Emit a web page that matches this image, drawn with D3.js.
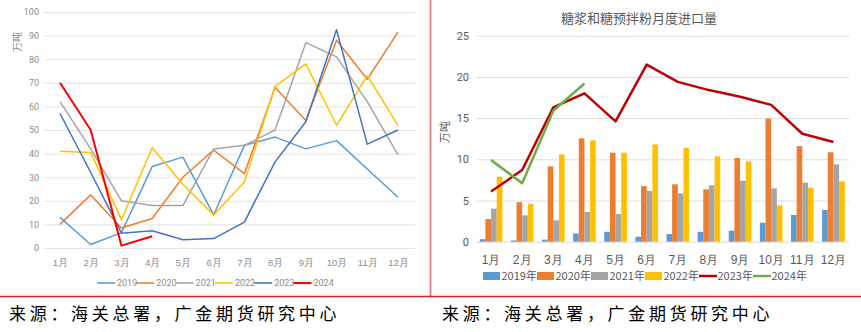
<!DOCTYPE html>
<html><head><meta charset="utf-8">
<script src="https://cdn.jsdelivr.net/npm/d3@7"></script>
<style>
html,body{margin:0;padding:0;background:#fff;}
svg{display:block;font-family:"Noto Sans CJK SC","Noto Sans",sans-serif;}
</style></head>
<body>
<svg id="c" width="861" height="332"></svg>
<script>
// ---------- DATA ----------
const months = ["1月","2月","3月","4月","5月","6月","7月","8月","9月","10月","11月","12月"];

// Left chart (万吨)
const leftYears = ["2019","2020","2021","2022","2023","2024"];
const left2019 = [13, 1.5, 6.5, 34.5, 38.5, 14, 43.5, 47, 42, 45.5, 33.5, 21.5];
const left2020 = [10, 22.5, 8.5, 12.5, 30, 41.5, 31.5, 68, 54, 88, 71.5, 91.5];
const left2021 = [62, 42, 20, 18, 18, 42, 43.5, 50, 87, 81, 62, 39.5];
const left2022 = [41, 40.5, 12, 42.5, 27, 14, 28, 68.5, 78, 52, 73, 52];
const left2023 = [57, 32, 6.3, 7.3, 3.5, 4, 11, 36.5, 53.5, 92.5, 44, 50];
const left2024 = [70, 50, 1, 5];
const leftYTicks = [0,10,20,30,40,50,60,70,80,90,100];

// Right chart (万吨)
const barYears = ["2019年","2020年","2021年","2022年"];
const bar2019 = [0.3, 0.15, 0.25, 1.0, 1.2, 0.6, 0.93, 1.2, 1.34, 2.3, 3.24, 3.85];
const bar2020 = [2.75, 4.8, 9.15, 12.55, 10.8, 6.75, 6.96, 6.35, 10.16, 14.93, 11.6, 10.85];
const bar2021 = [4.0, 3.2, 2.6, 3.6, 3.35, 6.15, 5.87, 6.84, 7.4, 6.48, 7.16, 9.39];
const bar2022 = [7.9, 4.6, 10.6, 12.3, 10.8, 11.8, 11.4, 10.36, 9.75, 4.41, 6.56, 7.33];
const line2023 = [6.1, 8.7, 16.3, 18.0, 14.6, 21.5, 19.4, 18.4, 17.6, 16.6, 13.1, 12.1];
const line2024 = [9.9, 7.1, 15.9, 19.2];
const rightYTicks = [0,5,10,15,20,25];

const rightTitle = "糖浆和糖预拌粉月度进口量";
const unitLabel = "万吨";
const sourceText = "来源：海关总署，广金期货研究中心";

// ---------- STYLE ----------
const leftColors = ["#5B9BD5","#ED7D31","#A5A5A5","#FFC000","#4472C4","#FF0000"];
const barColors = ["#5B9BD5","#ED7D31","#A5A5A5","#FFC000"];
const lineColors = ["#C00000","#70AD47"];

const svg = d3.select("#c");

// ---------- LEFT CHART ----------
{
  const g = svg.append("g");
  const y = d3.scaleLinear().domain([0,100]).range([248,12]);
  const x = d3.scalePoint().domain(months).range([60,398]);
  const yAxis = d3.axisLeft(y).tickValues(leftYTicks).tickSize(-(415-44)).tickPadding(5);
  const ga = g.append("g").attr("transform","translate(44,0)").call(yAxis);
  ga.select(".domain").remove();
  ga.selectAll(".tick line").attr("stroke","#e3e3e3").attr("stroke-width",1);
  ga.selectAll(".tick text").attr("fill","#8c8c8c").attr("font-size",9).attr("font-family","Roboto, 'Noto Sans', sans-serif");
  const xAxis = d3.axisBottom(x).tickSize(0).tickPadding(8);
  const gx = g.append("g").attr("transform","translate(0,251)").call(xAxis);
  gx.select(".domain").remove();
  gx.selectAll(".tick text").attr("fill","#8c8c8c").attr("font-size",9.5);

  g.append("text").attr("transform","translate(21,42) rotate(-90)")
    .attr("text-anchor","middle").attr("font-size",10).attr("fill","#8c8c8c").text(unitLabel);

  const series = [left2019,left2020,left2021,left2022,left2023,left2024];
  const line = d3.line().x((d,i)=>x(months[i])).y(d=>y(d));
  series.forEach((s,k)=>{
    g.append("path").datum(s).attr("d",line).attr("fill","none")
      .attr("stroke",leftColors[k]).attr("stroke-width",k===5?2:1.5)
      .attr("stroke-linejoin","round");
  });

  // legend
  const lg = g.append("g").attr("transform","translate(97,283)");
  leftYears.forEach((yr,k)=>{
    const it = lg.append("g").attr("transform",`translate(${k*39.3},0)`);
    it.append("line").attr("x1",0).attr("x2",18).attr("y1",0).attr("y2",0)
      .attr("stroke",leftColors[k]).attr("stroke-width",k===5?2.2:1.6);
    it.append("text").attr("x",20).attr("y",3.3).attr("font-size",9)
      .attr("fill","#8c8c8c").attr("font-family","Roboto, 'Noto Sans', sans-serif").text(yr);
  });
}

// ---------- RIGHT CHART ----------
{
  const g = svg.append("g");
  const y = d3.scaleLinear().domain([0,25]).range([241.7,35.7]);
  const x = d3.scaleBand().domain(months).range([475.5,849]).padding(0);
  const xs = d3.scaleBand().domain(barYears).range([0,x.bandwidth()]).paddingInner(0).paddingOuter(0.75);

  const yAxis = d3.axisLeft(y).tickValues(rightYTicks).tickSize(-(849-476)).tickPadding(7);
  const ga = g.append("g").attr("transform","translate(476,0)").call(yAxis);
  ga.select(".domain").remove();
  ga.selectAll(".tick line").attr("stroke","#dcdcdc").attr("stroke-width",1);
  ga.selectAll(".tick text").attr("fill","#595959").attr("font-size",11).attr("font-family","Roboto, 'Noto Sans', sans-serif");

  const barSeries = [bar2019,bar2020,bar2021,bar2022];
  barSeries.forEach((s,k)=>{
    g.append("g").selectAll("rect").data(s).join("rect")
      .attr("x",(d,i)=>x(months[i])+xs(barYears[k]))
      .attr("width",xs.bandwidth())
      .attr("y",d=>y(d))
      .attr("height",d=>y(0)-y(d))
      .attr("fill",barColors[k]);
  });

  const xAxis = d3.axisBottom(x).tickSize(0).tickPadding(10);
  const gx = g.append("g").attr("transform","translate(0,245)").call(xAxis);
  gx.select(".domain").remove();
  gx.selectAll(".tick text").attr("fill","#595959").attr("font-size",12);

  const line = d3.line().x((d,i)=>x(months[i])+x.bandwidth()/2).y(d=>y(d));
  [line2023,line2024].forEach((s,k)=>{
    g.append("path").datum(s).attr("d",line).attr("fill","none")
      .attr("stroke",lineColors[k]).attr("stroke-width",2.5).attr("stroke-linejoin","round");
  });

  g.append("text").attr("x",639).attr("y",23).attr("text-anchor","middle")
    .attr("font-size",13).attr("fill","#595959").text(rightTitle);

  g.append("text").attr("transform","translate(449,132) rotate(-90)")
    .attr("text-anchor","middle").attr("font-size",11).attr("fill","#595959").text(unitLabel);

  // legend
  const allLegend = barYears.concat(["2023年","2024年"]);
  const lx = [483,537,591,645,699,753];
  allLegend.forEach((yr,k)=>{
    const it = g.append("g").attr("transform",`translate(${lx[k]},276)`);
    if(k<4){
      it.append("rect").attr("x",0).attr("y",-4).attr("width",17).attr("height",8).attr("fill",barColors[k]);
    } else {
      it.append("line").attr("x1",0).attr("x2",18).attr("y1",0).attr("y2",0)
        .attr("stroke",lineColors[k-4]).attr("stroke-width",2.5);
    }
    it.append("text").attr("x",18.5).attr("y",4).attr("font-size",11).attr("fill","#595959").text(yr);
  });
}

// ---------- FRAME & SOURCES ----------
svg.append("line").attr("x1",430.5).attr("x2",430.5).attr("y1",0).attr("y2",296)
  .attr("stroke","#E6868C").attr("stroke-width",2);
svg.append("line").attr("x1",0).attr("x2",861).attr("y1",296.5).attr("y2",296.5)
  .attr("stroke","#D91E1E").attr("stroke-width",1.5);
[9,442].forEach(x0=>{
  svg.append("text").attr("x",x0).attr("y",320).attr("font-size",17)
    .attr("letter-spacing","3.7px").attr("fill","#000")
    .attr("font-family","'Noto Sans CJK SC',sans-serif").text(sourceText);
});
</script>
</body></html>
